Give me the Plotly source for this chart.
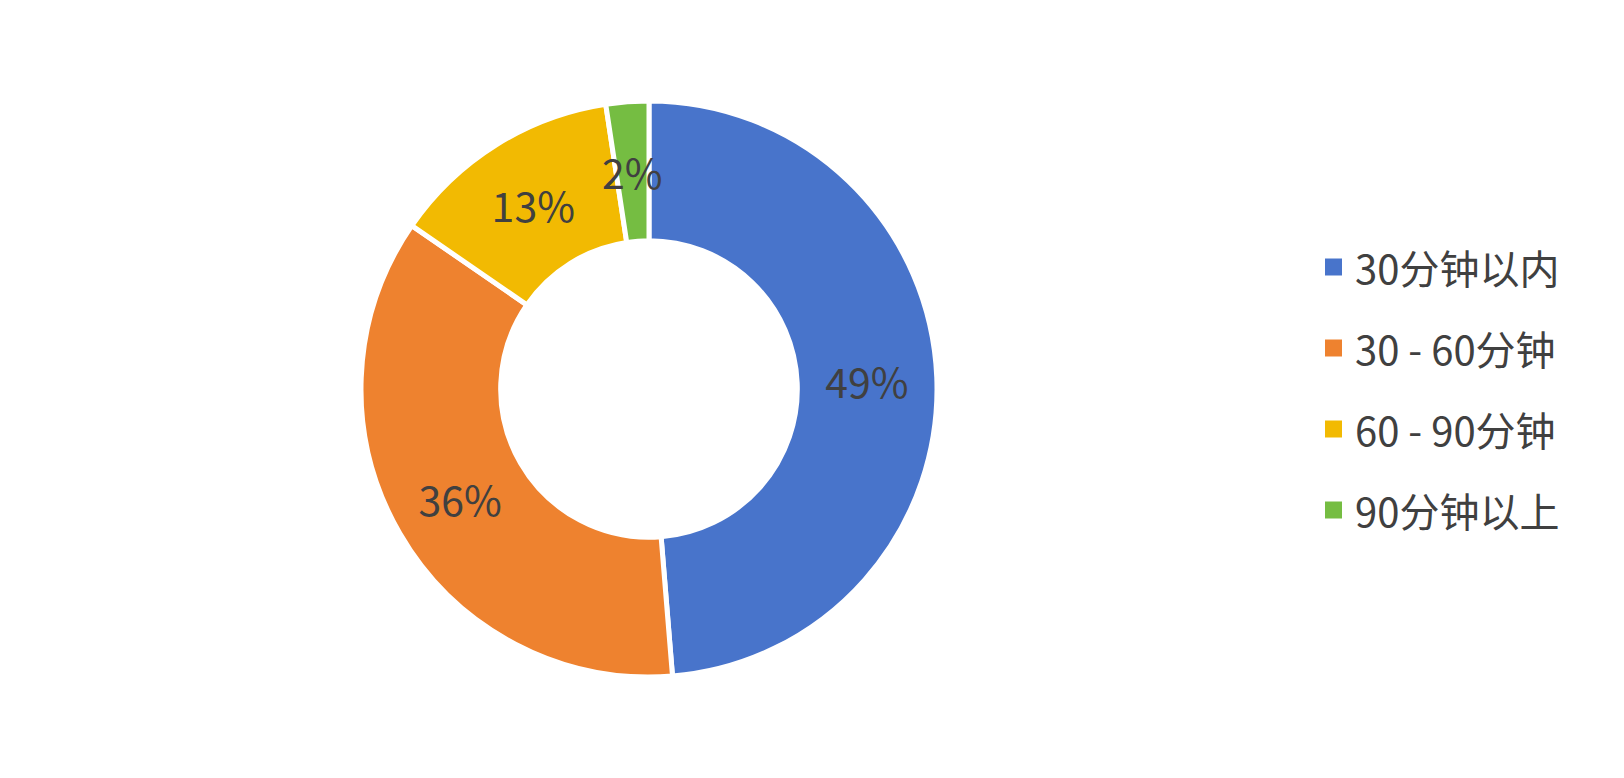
import math
import plotly.graph_objects as go

categories = ["30分钟以内", "30 - 60分钟", "60 - 90分钟", "90分钟以上"]
values = [48.7, 35.9, 13.0, 2.4]
colors = ["#4874CB", "#EE822F", "#F2BA02", "#75BD42"]

TEXT_COLOR = "#404040"
FONT = "Noto Sans CJK SC, Noto Sans, sans-serif"
W, H = 1624, 778

# pie geometry (pixels)
CX, CY, R = 649, 389, 288
HOLE = 0.515
LABEL_SIZE = 41

fig = go.Figure()

total = sum(values)
# slices that are too thin for plotly's inside text get their label drawn separately
thin = [v / total < 0.05 for v in values]
templates = ["" if t else "%{percent:.0%}" for t in thin]

fig.add_trace(go.Pie(
    labels=categories,
    values=values,
    sort=False,
    direction="clockwise",
    rotation=0,
    hole=HOLE,
    marker=dict(colors=colors, line=dict(color="white", width=5)),
    texttemplate=templates,
    textposition="inside",
    insidetextorientation="horizontal",
    textfont=dict(size=LABEL_SIZE, color=TEXT_COLOR, family=FONT),
    domain=dict(x=[(CX - R) / W, (CX + R) / W], y=[(H - CY - R) / H, (H - CY + R) / H]),
    showlegend=False,
    hoverinfo="label+percent",
))

# labels of thin slices at mid-ring of the slice's mid-angle
cum = 0
for v, t in zip(values, thin):
    mid = (cum + v / 2) / total
    cum += v
    if not t:
        continue
    ang = 2 * math.pi * mid
    rr = R * (1 + HOLE) / 2
    px = CX + rr * math.sin(ang)
    py = CY - rr * math.cos(ang)
    fig.add_annotation(xref="paper", yref="paper", x=px / W, y=1 - py / H,
                       xanchor="center", yanchor="middle", showarrow=False,
                       text=f"{round(100 * v / total)}%",
                       font=dict(size=LABEL_SIZE, color=TEXT_COLOR, family=FONT))

# custom legend
leg_x0 = 1325
leg_sq = 17
leg_y = [267, 348, 429, 510]
for i, (cat, col) in enumerate(zip(categories, colors)):
    yc = 1 - leg_y[i] / H
    fig.add_shape(type="rect", xref="paper", yref="paper",
                  x0=leg_x0 / W, x1=(leg_x0 + leg_sq) / W,
                  y0=yc - leg_sq / 2 / H, y1=yc + leg_sq / 2 / H,
                  fillcolor=col, line=dict(width=0))
    fig.add_annotation(xref="paper", yref="paper", x=1353 / W, y=yc,
                       xanchor="left", yanchor="middle", showarrow=False,
                       text=cat, font=dict(size=40, color=TEXT_COLOR, family=FONT))

fig.update_layout(
    width=W, height=H,
    margin=dict(l=0, r=0, t=0, b=0),
    paper_bgcolor="white", plot_bgcolor="white",
    uniformtext=dict(minsize=LABEL_SIZE, mode="show"),
    font=dict(family=FONT, color=TEXT_COLOR),
)

fig.write_html("out.html", config={"displayModeBar": False},
               post_script="document.body.style.margin='0';")
